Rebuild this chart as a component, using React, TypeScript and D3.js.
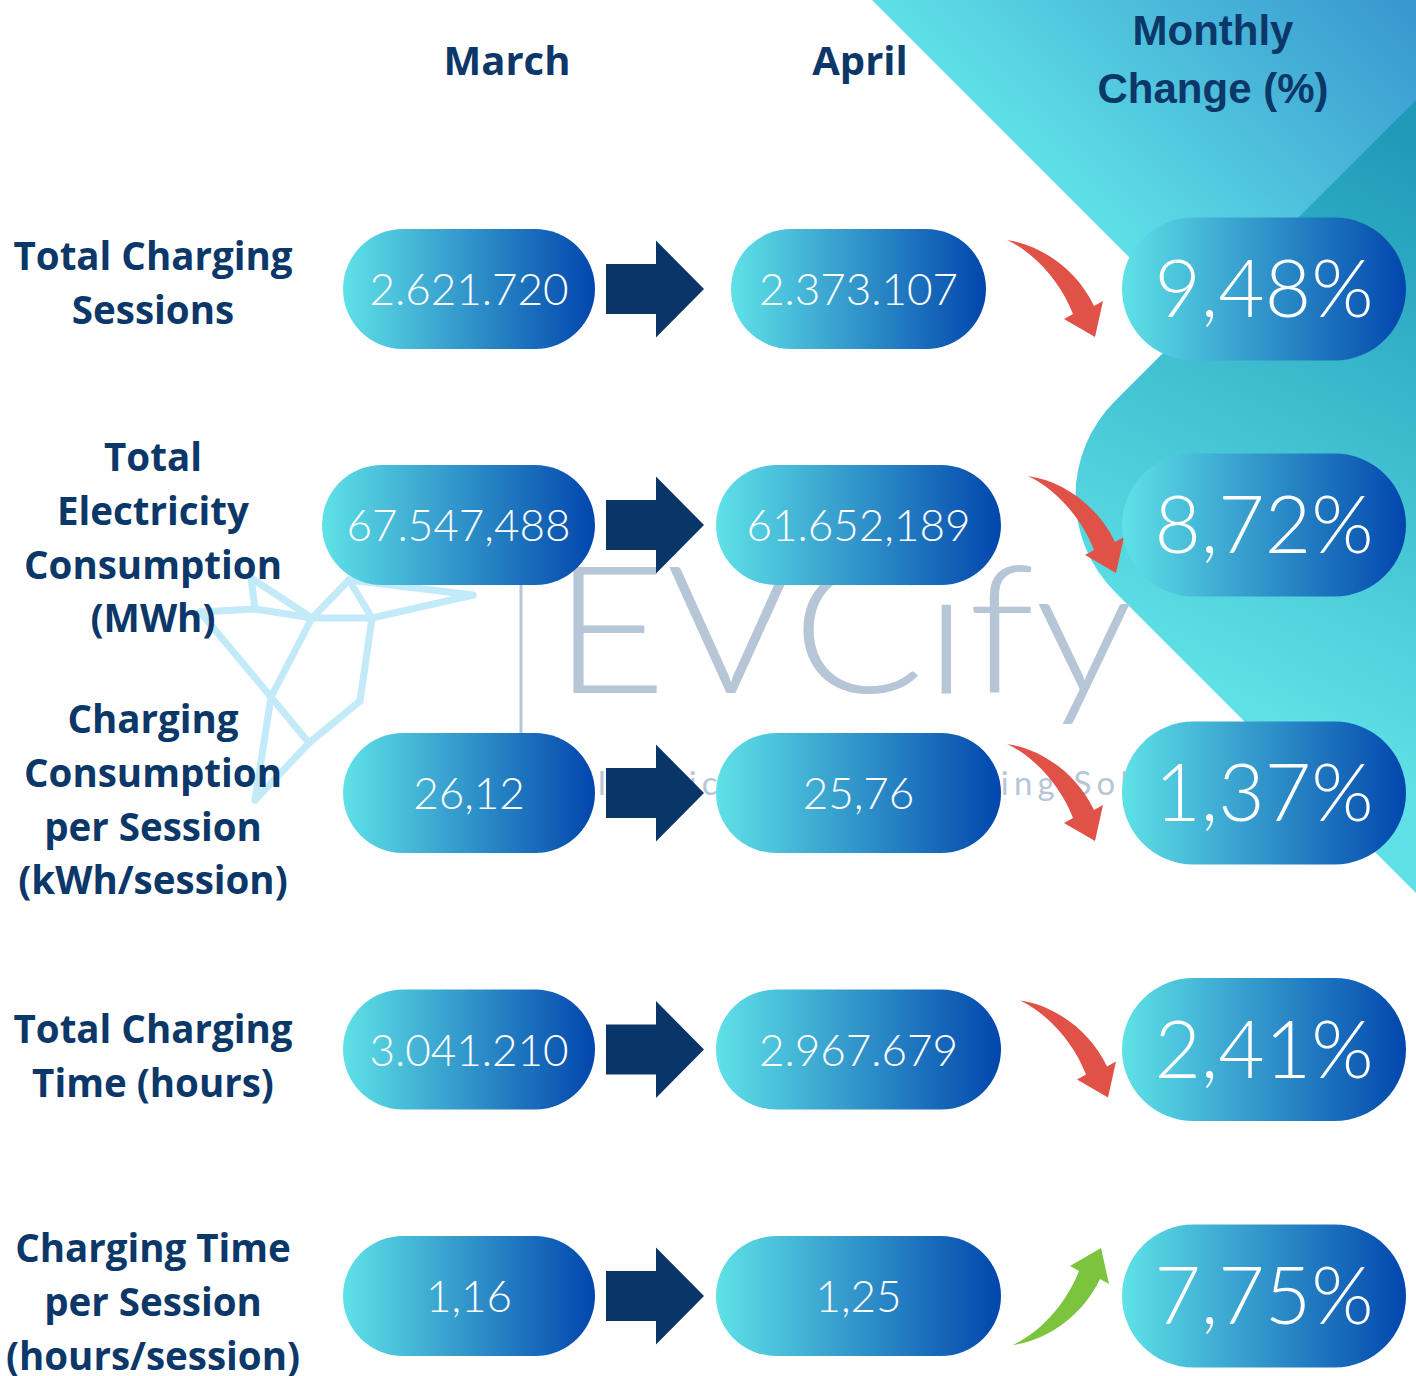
import React from "react";
import * as d3 from "d3";

// ---------- DATA ----------
const metricKeys = ["sessions", "energy", "energyPerSession", "time", "timePerSession"];
const metricLabels = [
  ["Total Charging", "Sessions"],
  ["Total", "Electricity", "Consumption", "(MWh)"],
  ["Charging", "Consumption", "per Session", "(kWh/session)"],
  ["Total Charging", "Time (hours)"],
  ["Charging Time", "per Session", "(hours/session)"],
];
const columnHeaders = ["March", "April"];
const changeHeader = ["Monthly", "Change (%)"];
const marchValues = ["2.621.720", "67.547,488", "26,12", "3.041.210", "1,16"];
const aprilValues = ["2.373.107", "61.652,189", "25,76", "2.967.679", "1,25"];
const monthlyChange = ["9,48%", "8,72%", "1,37%", "2,41%", "7,75%"];
const changeDirection = ["down", "down", "down", "down", "up"];
const watermarkTitle = "EVCify";
const watermarkSubtitle = "Electric Vehicle Charging Solutions";

// ---------- LAYOUT ----------
const W = 1416;
const H = 1376;
const rowCenters = [289, 525, 793, 1049.5, 1296];
const labelFirstBaseline = [270, 471, 733, 1043, 1262];
const labelLineGap = 53.8;
const marchPillW = [252, 273, 252, 252, 252];
const aprilPillW = [255, 285, 285, 285, 285];
const arrowTailX = [1007, 1028, 1007, 1020, 1013];

const NAVY = "#0b3769";
const WM = "#b7c6d6";

const rowY = d3.scaleOrdinal<string, number>().domain(metricKeys).range(rowCenters);
const colX = d3
  .scaleOrdinal<string, number>()
  .domain(["label", "marchRight", "april", "change", "blockArrow"])
  .range([153, 595, 858.5, 1264, 606]);

const VALUE_FONT = "Lato, 'Open Sans', sans-serif";
const LABEL_FONT = "'Open Sans', 'Noto Sans', sans-serif";

function Pill({ cx, cy, w, h, text, fontSize, dy }: any) {
  return (
    <g>
      <rect
        x={cx - w / 2}
        y={cy - h / 2}
        width={w}
        height={h}
        rx={h / 2}
        ry={h / 2}
        fill="url(#pillGrad)"
      />
      <text
        x={cx}
        y={cy + dy}
        textAnchor="middle"
        fill="#ffffff"
        fontFamily={VALUE_FONT}
        fontWeight={300}
        fontSize={fontSize}
      >
        {text}
      </text>
    </g>
  );
}

const blockArrowPath = (x0: number, cy: number) => {
  const p = d3.path();
  p.moveTo(x0, cy - 25);
  p.lineTo(x0 + 50, cy - 25);
  p.lineTo(x0 + 50, cy - 48.5);
  p.lineTo(x0 + 98, cy);
  p.lineTo(x0 + 50, cy + 48.5);
  p.lineTo(x0 + 50, cy + 25);
  p.lineTo(x0, cy + 25);
  p.closePath();
  return p.toString();
};

const curvedArrowPath = (() => {
  const p = d3.path();
  p.moveTo(0, 0);
  p.bezierCurveTo(35, 5, 70, 30, 87, 66);
  p.lineTo(96, 61);
  p.lineTo(88, 97);
  p.lineTo(57, 79);
  p.lineTo(66, 74);
  p.bezierCurveTo(55, 45, 30, 14, 0, 0);
  p.closePath();
  return p.toString();
})();

// bird logo (decorative)
const birdPts: Record<string, [number, number]> = {
  A: [200, 612], B: [255, 609], C: [251, 578], D: [312, 618], E: [349, 580],
  F: [372, 618], G: [473, 595], H: [271, 697], I: [255, 800], J: [360, 701], K: [309, 743],
};
const birdSegs = ["AB", "BD", "DF", "BC", "CD", "DE", "EF", "EG", "FG", "AH", "DH", "HI", "HK", "FJ", "JK", "KI"];

export default function App() {
  const line = d3.line();
  return (
    <svg
      width={W}
      height={H}
      viewBox={`0 0 ${W} ${H}`}
      style={{ position: "absolute", left: 0, top: 0, display: "block", background: "#fff" }}
    >
      <defs>
        <linearGradient id="pillGrad" x1="0" y1="0" x2="1" y2="0">
          <stop offset="0" stopColor="#5fe2e7" />
          <stop offset="1" stopColor="#0246ad" />
        </linearGradient>
        <linearGradient id="bg1" gradientUnits="userSpaceOnUse" x1={1144} y1={272} x2={1416} y2={0}>
          <stop offset="0" stopColor="#5ee0e6" />
          <stop offset="1" stopColor="#3895cf" />
        </linearGradient>
        <linearGradient id="bg2" gradientUnits="userSpaceOnUse" x1={1416} y1={150} x2={1150} y2={650}>
          <stop offset="0" stopColor="#1f9bb8" />
          <stop offset="1" stopColor="#5ee0e6" />
        </linearGradient>
      </defs>

      <rect x={0} y={0} width={W} height={H} fill="#ffffff" />

      {/* background shapes */}
      <path d="M872,0 L1416,0 L1416,544 Z" fill="url(#bg1)" />
      <path d="M1416,100 L1115,401 A135,135 0 0 0 1115,592 L1416,893 Z" fill="url(#bg2)" />

      {/* watermark */}
      <line x1={521} y1={560} x2={521} y2={760} stroke={WM} strokeWidth={3} />
      <text
        x={553}
        y={693}
        fill={WM}
        fontFamily={VALUE_FONT}
        fontWeight={300}
        fontSize={178}
        textLength={580}
        lengthAdjust="spacingAndGlyphs"
      >
        {watermarkTitle}
      </text>
      <text
        x={574}
        y={795}
        fill={WM}
        fontFamily={VALUE_FONT}
        fontWeight={400}
        fontSize={33}
        textLength={670}
        lengthAdjust="spacing"
      >
        {watermarkSubtitle}
      </text>

      {/* bird */}
      <g stroke="#c3eaf8" strokeWidth={7} strokeLinecap="round" strokeLinejoin="round" fill="none">
        {birdSegs.map((s) => (
          <path key={s} d={line([birdPts[s[0]], birdPts[s[1]]]) || ""} />
        ))}
      </g>

      {/* headers */}
      <text x={507} y={75} textAnchor="middle" fill={NAVY} fontFamily={LABEL_FONT} fontWeight={700} fontSize={40}>
        {columnHeaders[0]}
      </text>
      <text x={860} y={75} textAnchor="middle" fill={NAVY} fontFamily={LABEL_FONT} fontWeight={700} fontSize={40}>
        {columnHeaders[1]}
      </text>
      {changeHeader.map((t, i) => (
        <text
          key={t}
          x={1213}
          y={45 + i * 58}
          textAnchor="middle"
          fill={NAVY}
          fontFamily="'Liberation Sans', Arial, sans-serif"
          fontWeight={700}
          fontSize={42}
        >
          {t}
        </text>
      ))}

      {/* rows */}
      {metricKeys.map((k, i) => {
        const cy = rowY(k);
        const mw = marchPillW[i];
        const up = changeDirection[i] === "up";
        return (
          <g key={k}>
            {metricLabels[i].map((ln, j) => (
              <text
                key={j}
                x={colX("label")}
                y={labelFirstBaseline[i] + j * labelLineGap}
                textAnchor="middle"
                fill={NAVY}
                fontFamily={LABEL_FONT}
                fontWeight={700}
                fontSize={38.5}
              >
                {ln}
              </text>
            ))}
            <Pill cx={colX("marchRight") - mw / 2} cy={cy} w={mw} h={120} text={marchValues[i]} fontSize={44} dy={16} />
            <path d={blockArrowPath(colX("blockArrow"), cy)} fill="#0a3568" />
            <Pill cx={colX("april")} cy={cy} w={aprilPillW[i]} h={120} text={aprilValues[i]} fontSize={44} dy={16} />
            <path
              d={curvedArrowPath}
              fill={up ? "#7dc43e" : "#e05248"}
              transform={`translate(${arrowTailX[i]},${up ? cy + 49 : cy - 49}) scale(1,${up ? -1 : 1})`}
            />
            <Pill cx={colX("change")} cy={cy} w={284} h={143} text={monthlyChange[i]} fontSize={80} dy={28} />
          </g>
        );
      })}
    </svg>
  );
}
